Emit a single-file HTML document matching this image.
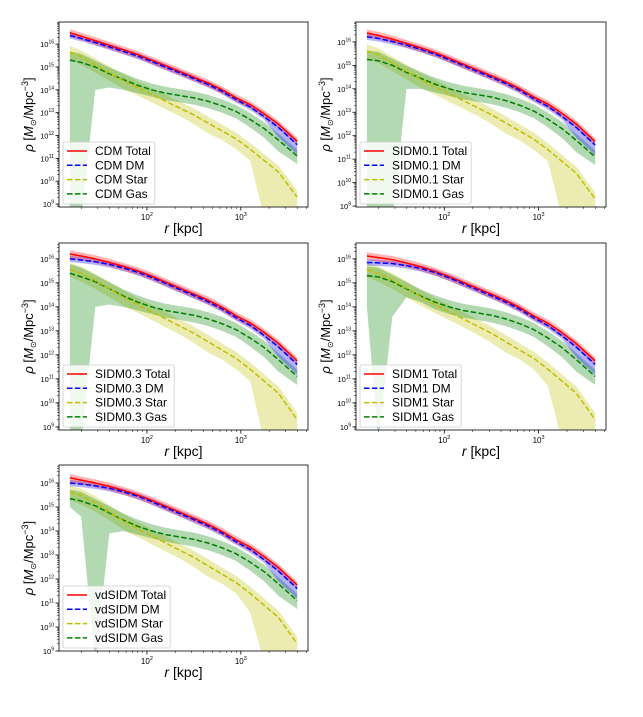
<!DOCTYPE html>
<html><head><meta charset="utf-8">
<style>
body{margin:0;background:#fff;}
svg{display:block;font-family:"Liberation Sans","DejaVu Sans",sans-serif;}
</style></head>
<body>
<svg id="fig" width="643" height="717" viewBox="0 0 643 717"></svg>
<script>
const rLog = [1.18,1.3,1.45,1.6,1.75,1.9,2.05,2.2,2.35,2.5,2.65,2.8,2.95,3.1,3.25,3.4,3.6];
const modelNames = ["CDM","SIDM0.1","SIDM0.3","SIDM1","vdSIDM"];
const totalVals = {
 "CDM":[16.5,16.35,16.15,15.95,15.75,15.55,15.3,15.05,14.8,14.55,14.3,14.0,13.65,13.35,12.95,12.5,11.75],
 "SIDM0.1":[16.38,16.28,16.12,15.93,15.74,15.54,15.3,15.05,14.8,14.55,14.3,14.0,13.65,13.35,12.95,12.5,11.75],
 "SIDM0.3":[16.2,16.12,16.0,15.85,15.68,15.5,15.28,15.03,14.78,14.53,14.28,13.98,13.63,13.33,12.93,12.48,11.75],
 "SIDM1":[16.12,16.05,15.97,15.83,15.67,15.48,15.26,15.02,14.77,14.52,14.27,13.97,13.62,13.32,12.92,12.47,11.75],
 "vdSIDM":[16.22,16.12,16.0,15.86,15.69,15.5,15.28,15.03,14.78,14.53,14.28,13.98,13.63,13.33,12.93,12.48,11.75]};
const dmVals = {
 "CDM":[16.38,16.25,16.07,15.88,15.68,15.48,15.24,14.99,14.74,14.49,14.23,13.93,13.57,13.25,12.82,12.35,11.6],
 "SIDM0.1":[16.22,16.15,16.02,15.86,15.68,15.48,15.24,14.99,14.74,14.49,14.23,13.93,13.57,13.25,12.82,12.35,11.6],
 "SIDM0.3":[16.0,15.95,15.88,15.77,15.62,15.44,15.22,14.97,14.72,14.47,14.21,13.91,13.55,13.23,12.8,12.33,11.6],
 "SIDM1":[15.85,15.83,15.8,15.72,15.6,15.43,15.21,14.96,14.71,14.46,14.2,13.9,13.54,13.22,12.79,12.32,11.6],
 "vdSIDM":[16.0,15.96,15.88,15.78,15.63,15.45,15.22,14.97,14.72,14.47,14.21,13.91,13.55,13.23,12.8,12.33,11.6]};
const starVals = {
 "CDM":[15.65,15.45,15.1,14.75,14.4,14.1,13.8,13.5,13.2,12.9,12.55,12.2,11.85,11.4,10.9,10.4,9.3],
 "SIDM0.1":[15.62,15.45,15.1,14.75,14.4,14.1,13.8,13.5,13.2,12.9,12.55,12.2,11.85,11.4,10.9,10.4,9.3],
 "SIDM0.3":[15.55,15.4,15.1,14.75,14.4,14.1,13.8,13.5,13.2,12.9,12.55,12.2,11.85,11.4,10.9,10.4,9.3],
 "SIDM1":[15.55,15.4,15.12,14.78,14.42,14.1,13.8,13.5,13.2,12.9,12.55,12.2,11.85,11.4,10.9,10.4,9.3],
 "vdSIDM":[15.62,15.48,15.18,14.8,14.42,14.1,13.8,13.5,13.2,12.9,12.55,12.2,11.85,11.4,10.9,10.4,9.3]};
const starLoVals = {
 "CDM":[15.35,15.1,14.75,14.4,14.05,13.75,13.45,13.15,12.85,12.5,12.1,11.8,11.4,10.9,8.3,8.3,8.3],
 "SIDM0.1":[15.3,15.1,14.75,14.4,14.05,13.75,13.45,13.15,12.85,12.5,12.1,11.8,11.4,10.9,8.3,8.3,8.3],
 "SIDM0.3":[15.25,15.05,14.75,14.4,14.05,13.75,13.45,13.15,12.85,12.5,12.1,11.8,11.4,10.9,8.3,8.3,8.3],
 "SIDM1":[15.25,15.05,14.75,14.4,14.05,13.75,13.45,13.15,12.85,12.5,12.1,11.8,11.4,10.7,8.3,8.3,8.3],
 "vdSIDM":[15.3,15.1,14.8,14.45,14.05,13.75,13.45,13.15,12.85,12.5,12.1,11.8,11.4,10.6,8.3,8.3,8.3]};
const gasVals = {
 "CDM":[15.3,15.2,15.0,14.7,14.45,14.2,14.0,13.85,13.75,13.65,13.5,13.3,13.05,12.7,12.3,11.8,11.1],
 "SIDM0.1":[15.25,15.2,15.0,14.7,14.45,14.2,14.0,13.85,13.75,13.65,13.5,13.3,13.05,12.7,12.3,11.8,11.1],
 "SIDM0.3":[15.4,15.25,15.05,14.75,14.45,14.2,14.0,13.85,13.75,13.65,13.5,13.3,13.05,12.7,12.3,11.8,11.1],
 "SIDM1":[15.3,15.25,15.05,14.75,14.45,14.2,14.0,13.85,13.75,13.65,13.5,13.3,13.05,12.7,12.3,11.8,11.1],
 "vdSIDM":[15.35,15.25,15.05,14.75,14.45,14.2,14.0,13.85,13.75,13.65,13.5,13.3,13.05,12.7,12.3,11.8,11.1]};
const gasLoVals = {
 "CDM":[8,8,14.0,14.1,14.0,13.85,13.7,13.55,13.45,13.35,13.2,13.0,12.75,12.35,11.9,11.3,10.75],
 "SIDM0.1":[8,8,8,14.0,14.0,13.85,13.7,13.55,13.45,13.35,13.2,13.0,12.75,12.35,11.9,11.3,10.75],
 "SIDM0.3":[8,8,14.0,14.1,14.0,13.85,13.7,13.55,13.45,13.35,13.2,13.0,12.75,12.35,11.9,11.3,10.75],
 "SIDM1":[14.0,8,13.6,14.4,14.2,13.9,13.7,13.55,13.45,13.35,13.2,13.0,12.75,12.35,11.9,11.3,10.75],
 "vdSIDM":[15.0,14.6,8,13.9,14.0,13.85,13.7,13.55,13.45,13.35,13.2,13.0,12.75,12.35,11.9,11.3,10.75]};
const panels = [
 {m:"CDM",x:59,y:22,w:249,h:185,ylo:8.87,yhi:16.97},
 {m:"SIDM0.1",x:356,y:22,w:250,h:185,ylo:8.96,yhi:16.85},
 {m:"SIDM0.3",x:59,y:243,w:249,h:187,ylo:8.87,yhi:16.66},
 {m:"SIDM1",x:356,y:243,w:250,h:187,ylo:8.87,yhi:16.66},
 {m:"vdSIDM",x:59,y:465,w:249,h:186,ylo:9.0,yhi:16.75}];
const XLO=1.064, XHI=3.715;
const NS="http://www.w3.org/2000/svg";
const svg=document.getElementById('fig');
function mk(tag,attrs,parent){const e=document.createElementNS(NS,tag);for(const k in attrs)e.setAttribute(k,attrs[k]);(parent||svg).appendChild(e);return e;}
panels.forEach((p,pi)=>{
 const g=mk('g',{});
 
 
 const sx=v=>p.x+(v-XLO)/(XHI-XLO)*p.w;
 const sy=v=>p.y+p.h-(Math.max(v,p.ylo-0.5)-p.ylo)/(p.yhi-p.ylo)*p.h;
 const cid='clip'+pi;
 const cp=mk('clipPath',{id:cid},g);mk('rect',{x:p.x,y:p.y,width:p.w,height:p.h},cp);
 const pg=mk('g',{'clip-path':'url(#'+cid+')'},g);
 function band(hi,lo,fill,name){
  let d='M'+rLog.map((r,i)=>sx(r)+','+sy(hi[i])).join(' L');
  for(let i=rLog.length-1;i>=0;i--)d+=' L'+sx(rLog[i])+','+sy(lo[i]);
  const e=mk('path',{d:d+'Z',fill:fill,stroke:'none'},pg);
  
  
 }
 function line(v,col,dash,name){
  const e=mk('path',{d:'M'+rLog.map((r,i)=>sx(r)+','+sy(v[i])).join(' L'),fill:'none',stroke:col,'stroke-width':1.5,'stroke-dasharray':dash||'none'},pg);
  
  
 }
 const T=totalVals[p.m],D=dmVals[p.m],S=starVals[p.m],Gs=gasVals[p.m];
 band(S.map(v=>v+0.28),starLoVals[p.m],'rgba(191,191,0,0.3)','star-band');
 band(Gs.map((v,i)=>v+0.28+(i<2?0.1:0)),gasLoVals[p.m],'rgba(0,128,0,0.3)','gas-band');
 band(D.map(v=>v+0.13),D.map((v,i)=>v-0.13-(i>=15?0.3:0)),'rgba(0,0,255,0.3)','dm-band');
 band(T.map(v=>v+0.15),T.map(v=>v-0.17),'rgba(255,0,0,0.3)','total-band');
 line(Gs,'#008000','5.5,2.4','gas-line');
 line(S,'#bfbf00','5.5,2.4','star-line');
 line(T,'#ff0000',null,'total-line');
 line(D,'#0000ff','5.5,2.4','dm-line');
 const fr=mk('rect',{x:p.x,y:p.y,width:p.w,height:p.h,fill:'none',stroke:'#000','stroke-width':0.8},g);
 
 
 for(let k=Math.ceil(p.ylo);k<=Math.floor(p.yhi);k++){
  const y=sy(k);
  mk('line',{x1:p.x-3.5,x2:p.x,y1:y,y2:y,stroke:'#000','stroke-width':0.8},g);
  const t=mk('text',{x:p.x-5,y:y+3,'font-size':7.5,'text-anchor':'end',fill:'#000'},g);
  t.innerHTML='10<tspan font-size="5" dy="-3.5">'+k+'</tspan>';
  
  
 }
 for(let k=Math.floor(p.ylo);k<=Math.floor(p.yhi);k++){
  for(let m=2;m<10;m++){const yy=sy(k+Math.log10(m));if(yy>p.y&&yy<p.y+p.h)mk('line',{x1:p.x-2,x2:p.x,y1:yy,y2:yy,stroke:'#000','stroke-width':0.5},g);}
 }
 for(let k=1;k<=3;k++){
  for(let m=1;m<10;m++){const v=k+Math.log10(m);if(v<XLO||v>XHI)continue;const x=sx(v);
   mk('line',{x1:x,x2:x,y1:p.y+p.h,y2:p.y+p.h+(m==1?3.5:2),stroke:'#000','stroke-width':m==1?0.8:0.5},g);
   if(m==1){const t=mk('text',{x:x,y:p.y+p.h+13,'font-size':8,'text-anchor':'middle',fill:'#000'},g);
    t.innerHTML='10<tspan font-size="5.5" dy="-4">'+k+'</tspan>';
    
    }
  }
 }
 const xl=mk('text',{x:p.x+p.w/2,y:p.y+p.h+26,'font-size':14,'text-anchor':'middle',fill:'#000'},g);
 xl.innerHTML='<tspan font-style="italic">r</tspan> [kpc]';
 
 
 const yl=mk('text',{x:0,y:0,'font-size':13,'text-anchor':'middle',fill:'#000',transform:'translate('+(p.x-26)+','+(p.y+p.h/2)+') rotate(-90)'},g);
 yl.innerHTML='<tspan font-style="italic">ρ</tspan> [<tspan font-style="italic">M</tspan><tspan font-size="8" dy="3">⊙</tspan><tspan dy="-3">/Mpc</tspan><tspan font-size="9" dy="-5">−3</tspan><tspan dy="5">]</tspan>';
 
 
 const lg=mk('g',{},g);
 
 
 const lx=p.x+4, ly=p.y+p.h-65;
 const box=mk('rect',{x:lx,y:ly,width:90,height:62,rx:2,fill:'rgba(255,255,255,0.8)',stroke:'#ccc','stroke-width':0.8},lg);
 const ents=[['Total','#ff0000',null],['DM','#0000ff','5.5,2.4'],['Star','#bfbf00','5.5,2.4'],['Gas','#008000','5.5,2.4']];
 let maxw=0;
 ents.forEach((en,i)=>{
  const yy=ly+9+i*14.3;
  const eg=mk('g',{},lg);
  
  
  mk('line',{x1:lx+4,x2:lx+24,y1:yy,y2:yy,stroke:en[1],'stroke-width':1.5,'stroke-dasharray':en[2]||'none'},eg);
  const t=mk('text',{x:lx+32,y:yy+4,'font-size':12,fill:'#000'},eg);
  t.textContent=p.m+' '+en[0];
  maxw=Math.max(maxw,t.getComputedTextLength());
 });
 box.setAttribute('width',maxw+36);
});
</script>
</body></html>
